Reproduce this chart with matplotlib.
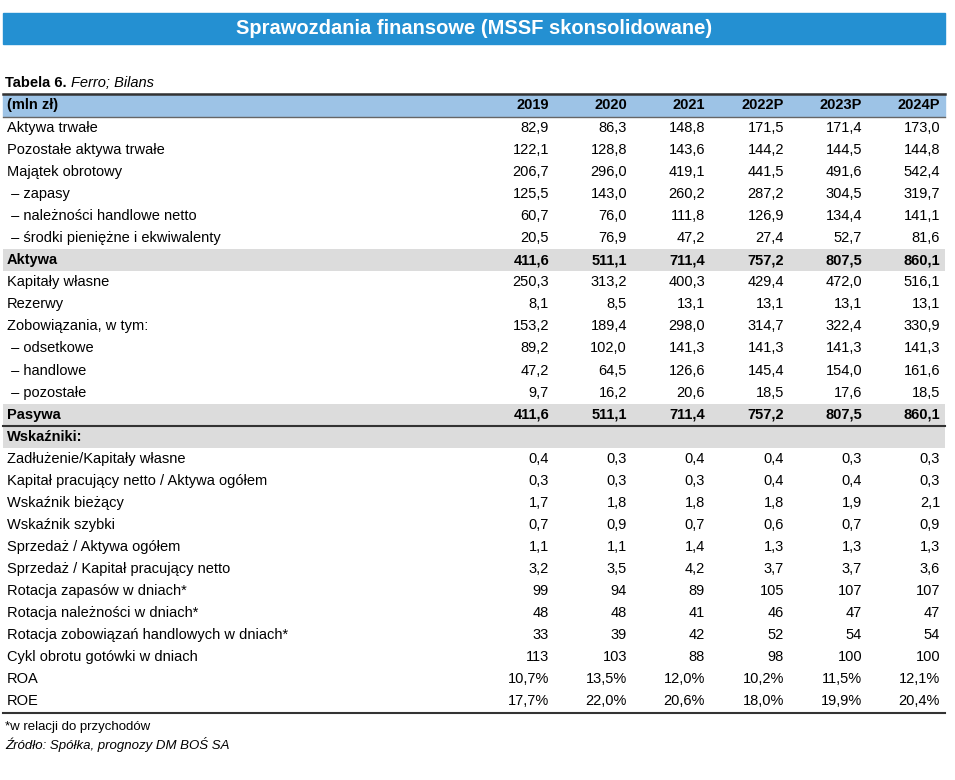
import matplotlib
matplotlib.use("Agg")
import matplotlib.pyplot as plt
from matplotlib.patches import Rectangle

plt.rcParams['font.family'] = ['Liberation Sans Narrow', 'Liberation Sans', 'DejaVu Sans']

years = ['2019', '2020', '2021', '2022P', '2023P', '2024P']

labels = [
    'Aktywa trwałe', 'Pozostałe aktywa trwałe', 'Majątek obrotowy',
    ' – zapasy', ' – należności handlowe netto', ' – środki pieniężne i ekwiwalenty',
    'Aktywa', 'Kapitały własne', 'Rezerwy', 'Zobowiązania, w tym:',
    ' – odsetkowe', ' – handlowe', ' – pozostałe', 'Pasywa', 'Wskaźniki:',
    'Zadłużenie/Kapitały własne', 'Kapitał pracujący netto / Aktywa ogółem',
    'Wskaźnik bieżący', 'Wskaźnik szybki', 'Sprzedaż / Aktywa ogółem',
    'Sprzedaż / Kapitał pracujący netto', 'Rotacja zapasów w dniach*',
    'Rotacja należności w dniach*', 'Rotacja zobowiązań handlowych w dniach*',
    'Cykl obrotu gotówki w dniach', 'ROA', 'ROE',
]

values = [
    ['82,9', '86,3', '148,8', '171,5', '171,4', '173,0'],
    ['122,1', '128,8', '143,6', '144,2', '144,5', '144,8'],
    ['206,7', '296,0', '419,1', '441,5', '491,6', '542,4'],
    ['125,5', '143,0', '260,2', '287,2', '304,5', '319,7'],
    ['60,7', '76,0', '111,8', '126,9', '134,4', '141,1'],
    ['20,5', '76,9', '47,2', '27,4', '52,7', '81,6'],
    ['411,6', '511,1', '711,4', '757,2', '807,5', '860,1'],
    ['250,3', '313,2', '400,3', '429,4', '472,0', '516,1'],
    ['8,1', '8,5', '13,1', '13,1', '13,1', '13,1'],
    ['153,2', '189,4', '298,0', '314,7', '322,4', '330,9'],
    ['89,2', '102,0', '141,3', '141,3', '141,3', '141,3'],
    ['47,2', '64,5', '126,6', '145,4', '154,0', '161,6'],
    ['9,7', '16,2', '20,6', '18,5', '17,6', '18,5'],
    ['411,6', '511,1', '711,4', '757,2', '807,5', '860,1'],
    ['', '', '', '', '', ''],
    ['0,4', '0,3', '0,4', '0,4', '0,3', '0,3'],
    ['0,3', '0,3', '0,3', '0,4', '0,4', '0,3'],
    ['1,7', '1,8', '1,8', '1,8', '1,9', '2,1'],
    ['0,7', '0,9', '0,7', '0,6', '0,7', '0,9'],
    ['1,1', '1,1', '1,4', '1,3', '1,3', '1,3'],
    ['3,2', '3,5', '4,2', '3,7', '3,7', '3,6'],
    ['99', '94', '89', '105', '107', '107'],
    ['48', '48', '41', '46', '47', '47'],
    ['33', '39', '42', '52', '54', '54'],
    ['113', '103', '88', '98', '100', '100'],
    ['10,7%', '13,5%', '12,0%', '10,2%', '11,5%', '12,1%'],
    ['17,7%', '22,0%', '20,6%', '18,0%', '19,9%', '20,4%'],
]

bold_rows = {'Aktywa', 'Pasywa', 'Wskaźniki:'}

W, H = 955, 780
fig = plt.figure(figsize=(W / 100, H / 100), dpi=100)
ax = fig.add_axes([0, 0, 1, 1])
ax.set_xlim(0, W)
ax.set_ylim(H, 0)
ax.axis('off')

# banner
ax.add_patch(Rectangle((3, 13), 942, 31, color='#2490d2'))
ax.text(474, 29, 'Sprawozdania finansowe (MSSF skonsolidowane)', color='white',
        fontsize=14.5, fontweight='bold', ha='center', va='center')

# table title
t = ax.text(5, 83, 'Tabela 6. ', fontsize=10.5, fontweight='bold', va='center')
ax.annotate('Ferro; Bilans', xycoords=t, xy=(1, 0.5), va='center',
            fontsize=10.5, style='italic')

left, right = 3, 945
col_x = [549, 627, 705, 784, 862, 940]
row_h = 22.05

# header
ax.add_patch(Rectangle((left, 94), right - left, 22, color='#9dc3e6'))
ax.plot([left, right], [94, 94], color='#333333', lw=1.8)
ax.plot([left, right], [116.5, 116.5], color='#666666', lw=1.0)
ax.text(7, 105, '(mln zł)', fontsize=10.5, fontweight='bold', va='center')
for x, yr in zip(col_x, years):
    ax.text(x, 105, yr, fontsize=10.5, fontweight='bold', va='center', ha='right')

y0 = 128
for i, (lab, vals) in enumerate(zip(labels, values)):
    y = y0 + i * row_h
    bold = lab in bold_rows
    if bold:
        ax.add_patch(Rectangle((left, y - 11), right - left, row_h, color='#dcdcdc', lw=0))
    ax.text(7, y, lab, fontsize=10.5, va='center',
            fontweight='bold' if bold else 'normal')
    for x, v in zip(col_x, vals):
        ax.text(x, y, v, fontsize=10.5, va='center', ha='right',
                fontweight='bold' if bold else 'normal')

# separator lines
pas = labels.index('Pasywa')
ax.plot([left, right], [y0 + pas * row_h + 11.5] * 2, color='#333333', lw=1.5)
ax.plot([left, right], [y0 + (len(labels) - 1) * row_h + 11.5] * 2, color='#333333', lw=1.5)

ax.text(5, 727, '*w relacji do przychodów', fontsize=9.5, va='center')
ax.text(5, 745, 'Źródło: Spółka, prognozy DM BOŚ SA', fontsize=9.5, va='center', style='italic')

fig.savefig('out.png', dpi=100)
